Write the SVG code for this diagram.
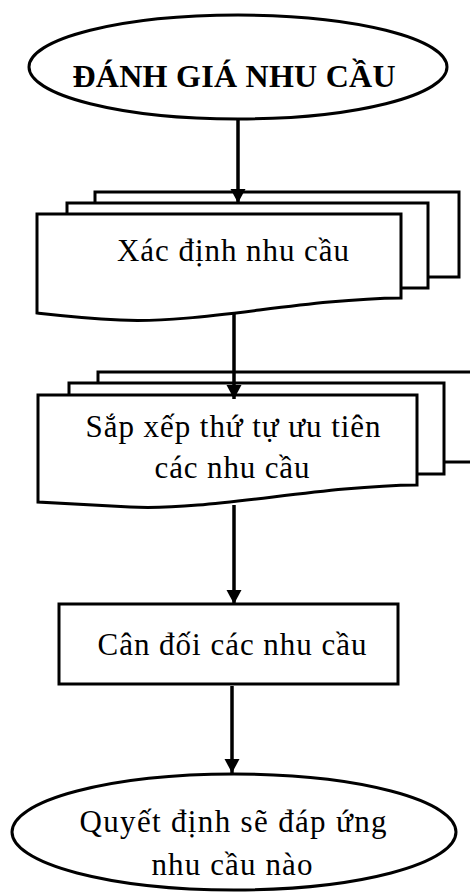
<svg xmlns="http://www.w3.org/2000/svg" width="470" height="892" viewBox="0 0 470 892">
  <style>
    .shape { fill: #fff; stroke: #000; stroke-width: 3; }
    .label { font-family: "Liberation Serif", "DejaVu Serif", serif; font-size: 31px; fill: #000; text-anchor: middle; }
    .title { font-weight: bold; font-size: 32px; }
    .edge { stroke: #000; stroke-width: 3.5; fill: none; marker-end: url(#arrow); }
  </style>
  <defs>
    <marker id="arrow" markerUnits="userSpaceOnUse" markerWidth="16" markerHeight="16" viewBox="0 0 16 16" refX="14" refY="8" orient="auto">
      <path d="M0,0.5 L14,8 L0,15.5 Z" fill="#000"/>
    </marker>
  </defs>

  <rect width="470" height="892" fill="#fff"/>

  <!-- start terminator -->
  <g id="start">
    <ellipse class="shape" cx="238" cy="67" rx="209" ry="52"/>
    <text class="label title" x="234" y="87" textLength="323">ĐÁNH GIÁ NHU CẦU</text>
  </g>

  <!-- multi-document: identify -->
  <g id="identify">
    <rect class="shape" x="95" y="192" width="364" height="85"/>
    <rect class="shape" x="67" y="203" width="361" height="85"/>
    <path class="shape" d="M37,214 H401 V298 C300,299 200,324 120,320 C80,318 55,315 37,313 Z"/>
    <text class="label" x="233" y="261" textLength="232">Xác định nhu cầu</text>
  </g>

  <!-- multi-document: prioritise -->
  <g id="prioritise">
    <rect class="shape" x="98" y="372" width="390" height="90"/>
    <rect class="shape" x="69" y="383" width="375" height="91"/>
    <path class="shape" d="M38,395 H417 V485 C316,486 210,511 130,507 C90,505 60,503 38,502 Z"/>
    <text class="label" x="233" y="437" textLength="295">Sắp xếp thứ tự ưu tiên</text>
    <text class="label" x="232" y="478" textLength="155">các nhu cầu</text>
  </g>

  <!-- process: balance -->
  <g id="balance">
    <rect class="shape" x="59" y="604" width="339" height="80"/>
    <text class="label" x="232" y="655" textLength="269">Cân đối các nhu cầu</text>
  </g>

  <!-- end terminator -->
  <g id="decide">
    <ellipse class="shape" cx="234" cy="832" rx="222" ry="58"/>
    <text class="label" x="233" y="832" textLength="307">Quyết định sẽ đáp ứng</text>
    <text class="label" x="232" y="875" textLength="161">nhu cầu nào</text>
  </g>

  <!-- connectors -->
  <g id="connectors">
    <line class="edge" x1="238" y1="120" x2="238" y2="203"/>
    <line class="edge" x1="234" y1="314" x2="234" y2="399"/>
    <line class="edge" x1="234" y1="505" x2="234" y2="604"/>
    <line class="edge" x1="232" y1="686" x2="232" y2="773"/>
  </g>
</svg>
